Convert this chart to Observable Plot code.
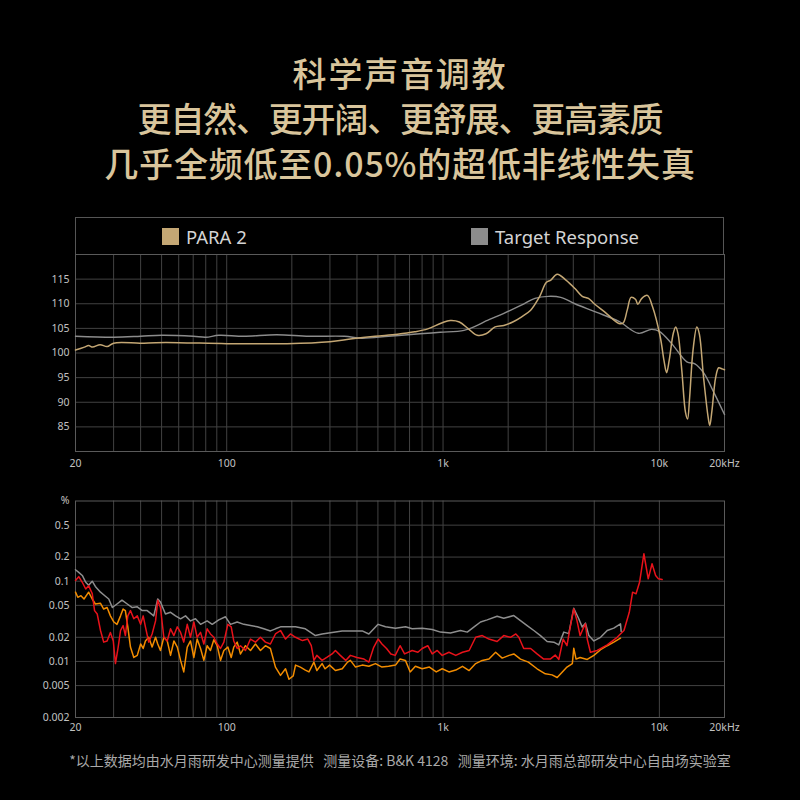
<!DOCTYPE html>
<html>
<head>
<meta charset="utf-8">
<script src="https://cdn.jsdelivr.net/npm/d3@7"></script>
<script src="https://cdn.jsdelivr.net/npm/@observablehq/plot@0.6"></script>
<style>
  html, body { margin: 0; padding: 0; background: #000; }
  #root { position: relative; width: 800px; height: 800px; background: #000; overflow: hidden; }
  .title { position: absolute; left: 0; top: 50px; width: 800px; text-align: center;
    font-family: "Noto Sans CJK SC", "Noto Sans", sans-serif; font-weight: 500; font-size: 34px;
    line-height: 45px; color: #d9c59c; }
  .title div { white-space: nowrap; }
  .legend { position: absolute; left: 75px; top: 217px; width: 649px; height: 38px; box-sizing: border-box;
    border: 1px solid #555; border-bottom: none; font-family: "Noto Sans", sans-serif; font-size: 18.5px; color: #d4d4d4; }
  .item { position: absolute; top: 0; height: 37px; display: flex; align-items: center; }
  .sw { width: 17px; height: 17px; margin-right: 7px; }
  .chart { position: absolute; left: 0; }
  .footer { position: absolute; left: 0; top: 750px; width: 800px; text-align: center;
    font-family: "Noto Sans CJK SC", "Noto Sans", sans-serif; font-size: 14px; color: #a9a9a9; white-space: nowrap; }
</style>
</head>
<body>
<div id="root">
  <div class="title">
    <div style="letter-spacing:1.8px">科学声音调教</div>
    <div style="letter-spacing:-1.2px">更自然、更开阔、更舒展、更高素质</div>
    <div style="letter-spacing:0.8px">几乎全频低至0.05%的超低非线性失真</div>
  </div>
  <div class="legend" id="legend"></div>
  <div class="chart" id="top" style="top:240px"></div>
  <div class="chart" id="bottom" style="top:490px"></div>
  <div class="footer">*以上数据均由水月雨研发中心测量提供&nbsp;&nbsp;&nbsp;测量设备: B&amp;K 4128&nbsp;&nbsp;&nbsp;测量环境: 水月雨总部研发中心自由场实验室</div>
</div>
<script>
// ---------- Frequency response (top chart) ----------
const seriesNames = ["PARA 2", "Target Response"];
const seriesColors = ["#c4a774", "#8c8c8c"];

const para2Freq = [20, 22, 23, 24, 26, 28, 30, 40, 47, 60, 100, 190, 300, 380, 485, 615, 740, 850, 985, 1080, 1190, 1310, 1440, 1580, 1740, 1910, 2100, 2300, 2540, 2790, 3000, 3150, 3370, 3700, 4070, 4400, 4700, 5000, 5600, 6500, 6800, 7100, 7400, 7750, 7950, 8300, 8800, 9300, 10100, 10500, 10800, 11100, 11600, 11900, 12200, 12700, 13200, 13500, 13800, 14300, 14900, 15300, 16000, 16800, 17100, 17500, 18200, 18800, 19400, 20000];
const para2Db = [100.6, 101.2, 101.5, 101.2, 101.7, 101.3, 102.0, 102.0, 102.1, 102.1, 101.9, 101.9, 102.3, 102.9, 103.4, 103.8, 104.3, 104.9, 106.1, 106.6, 106.3, 104.9, 103.6, 103.9, 105.3, 105.6, 106.3, 107.3, 108.7, 111.4, 114.3, 114.8, 116.0, 114.8, 113.1, 111.5, 111.1, 110.0, 108.3, 106.0, 106.1, 108.7, 111.3, 110.9, 109.9, 111.1, 111.7, 109.4, 103.2, 98.5, 96.0, 98.5, 104.0, 105.3, 103.9, 96.4, 88.0, 86.6, 91.0, 100.5, 105.3, 103.9, 95.1, 87.0, 85.3, 88.3, 95.0, 97.0, 96.8, 96.6];

const targetFreq = [20, 30, 40, 50, 70, 80, 92, 120, 170, 240, 350, 420, 560, 780, 970, 1250, 1440, 1580, 1900, 2300, 2660, 3070, 3500, 4070, 5100, 6500, 8000, 9200, 10000, 11400, 13400, 14600, 16000, 17900, 20000];
const targetDb = [103.4, 103.2, 103.4, 103.6, 103.4, 103.2, 103.6, 103.4, 103.7, 103.4, 103.4, 103.0, 103.4, 103.9, 104.2, 104.6, 105.6, 106.5, 108.0, 109.7, 111.1, 111.5, 111.3, 110.0, 108.3, 106.4, 104.0, 104.8, 104.4, 101.9, 98.2, 97.8, 96.0, 91.9, 87.5];

const xTickValues = [20, 100, 1000, 10000, 20000];
const xTickLabels = ["20", "100", "1k", "10k", "20kHz"];
const frTicks = [85, 90, 95, 100, 105, 110, 115];
const topGridX = [30, 40, 50, 60, 70, 80, 90, 100, 200, 300, 400, 500, 600, 700, 800, 900, 1000, 2000, 3000, 4000, 5000, 10000];

// ---------- Distortion (bottom chart) ----------
const thdGrayFreq = [20, 20.7, 21.5, 22.3, 23.0, 23.9, 24.7, 26.1, 27.5, 28.5, 29.6, 31.1, 32.8, 34.7, 36.6, 38.6, 40.7, 42.9, 46.0, 48.0, 49.4, 52.1, 55.0, 58.0, 61.2, 64.5, 68.0, 71.7, 75.7, 81.2, 85.7, 91.9, 98.7, 104.1, 111.8, 120, 128.8, 138.4, 148.4, 159.3, 168, 177.3, 190, 208, 231, 257, 276, 307, 342, 380, 423, 454, 501, 542, 603, 671, 720, 801, 891, 973, 1082, 1204, 1294, 1387, 1490, 1600, 1778, 1908, 2124, 2280, 2448, 2628, 2820, 3028, 3251, 3428, 3616, 3812, 4020, 4240, 4400, 4554, 4720, 4980, 5347, 5740, 6156, 6610, 6660];
const thdGrayVal = [0.139, 0.129, 0.118, 0.097, 0.089, 0.1, 0.086, 0.073, 0.065, 0.060, 0.047, 0.052, 0.058, 0.052, 0.047, 0.048, 0.043, 0.043, 0.037, 0.060, 0.055, 0.039, 0.041, 0.037, 0.034, 0.037, 0.032, 0.034, 0.029, 0.032, 0.029, 0.033, 0.036, 0.029, 0.031, 0.029, 0.028, 0.027, 0.0255, 0.024, 0.0255, 0.027, 0.027, 0.027, 0.0255, 0.021, 0.022, 0.023, 0.024, 0.024, 0.024, 0.022, 0.029, 0.027, 0.026, 0.027, 0.0255, 0.026, 0.025, 0.0232, 0.0226, 0.0243, 0.0232, 0.0268, 0.031, 0.033, 0.0365, 0.0345, 0.0373, 0.0323, 0.028, 0.0243, 0.021, 0.0177, 0.0174, 0.0161, 0.0232, 0.0222, 0.046, 0.034, 0.0268, 0.030, 0.021, 0.018, 0.020, 0.0243, 0.026, 0.0294, 0.0237];

const thdRedFreq = [20, 20.7, 21.5, 22.3, 23.0, 23.9, 24.5, 25.2, 26.1, 27.0, 28.0, 29.0, 29.9, 30.6, 31.5, 32.3, 33.2, 34.0, 34.9, 35.9, 37.2, 38.6, 40.0, 41.1, 42.1, 43.6, 45.2, 46.9, 48.0, 49.4, 51.2, 53.1, 55.0, 57.0, 59.1, 61.2, 63.3, 65.7, 68.0, 70.5, 73.0, 75.7, 78.4, 81.2, 84.1, 87.2, 90.4, 93.6, 97.0, 101.2, 104.9, 107.8, 111.8, 115.8, 122.1, 128.8, 135.8, 143.2, 151, 159.2, 168, 177.3, 187, 197, 208, 224, 237, 246, 253, 261, 276, 290, 307, 318, 335, 355, 373, 400, 431, 454, 478, 501, 522, 548, 574, 601, 633, 664, 720, 765, 801, 850, 891, 940, 991, 1065, 1145, 1230, 1320, 1415, 1518, 1630, 1778, 1908, 2050, 2170, 2240, 2360, 2540, 2720, 2920, 3130, 3300, 3430, 3590, 3740, 3870, 4020, 4160, 4300, 4430, 4554, 4640, 4800, 5160, 5740, 6380, 6860, 7260, 7520, 7800, 8100, 8480, 8880, 9250, 9610, 9900, 10300];
const thdRedVal = [0.102, 0.114, 0.097, 0.080, 0.088, 0.070, 0.043, 0.039, 0.0243, 0.0174, 0.018, 0.023, 0.018, 0.0094, 0.0151, 0.0243, 0.028, 0.021, 0.037, 0.043, 0.034, 0.037, 0.029, 0.037, 0.027, 0.0174, 0.022, 0.032, 0.058, 0.047, 0.020, 0.018, 0.0255, 0.021, 0.027, 0.023, 0.0174, 0.029, 0.020, 0.031, 0.020, 0.023, 0.0165, 0.0255, 0.022, 0.020, 0.0165, 0.0145, 0.0174, 0.029, 0.027, 0.018, 0.0145, 0.0157, 0.0137, 0.019, 0.0174, 0.020, 0.0174, 0.0165, 0.022, 0.0243, 0.019, 0.022, 0.020, 0.0182, 0.019, 0.0157, 0.0103, 0.0119, 0.0103, 0.0112, 0.0124, 0.0137, 0.0119, 0.0103, 0.0119, 0.0112, 0.0107, 0.0098, 0.015, 0.019, 0.0165, 0.0145, 0.0124, 0.0119, 0.0157, 0.0124, 0.0137, 0.013, 0.0145, 0.0157, 0.0124, 0.0137, 0.0119, 0.013, 0.0119, 0.013, 0.0137, 0.020, 0.021, 0.019, 0.0177, 0.021, 0.020, 0.022, 0.020, 0.0145, 0.0145, 0.0124, 0.0107, 0.0107, 0.012, 0.0106, 0.019, 0.0157, 0.0268, 0.0452, 0.0323, 0.021, 0.0254, 0.0294, 0.019, 0.013, 0.0137, 0.0161, 0.020, 0.0243, 0.041, 0.073, 0.0696, 0.097, 0.22, 0.107, 0.165, 0.118, 0.107, 0.105];

const thdOrangeFreq = [20, 20.5, 21.2, 21.9, 23.0, 23.9, 24.7, 26.1, 27.0, 28.0, 29.0, 30.1, 31.1, 32.3, 33.2, 34.0, 34.9, 35.9, 37.2, 38.6, 40.0, 41.1, 42.1, 43.6, 45.2, 46.9, 48.0, 49.4, 51.2, 53.1, 55.0, 57.0, 59.1, 61.2, 63.3, 65.7, 68.0, 70.5, 73.0, 75.7, 78.4, 81.2, 84.1, 87.2, 90.4, 93.6, 97.0, 101.2, 104.9, 107.8, 111.8, 115.8, 122.1, 128.8, 135.8, 143.2, 151, 159.2, 168, 177.3, 187, 194, 203, 208, 219, 231, 240, 253, 261, 276, 285, 299, 318, 342, 362, 373, 394, 423, 454, 487, 522, 560, 603, 633, 670, 705, 745, 801, 865, 930, 991, 1065, 1145, 1230, 1320, 1415, 1518, 1630, 1750, 1877, 2020, 2124, 2280, 2480, 2720, 2970, 3190, 3370, 3560, 3740, 3960, 4020, 4120, 4300, 4640, 4980, 5347, 5740, 6156, 6610];
const thdOrangeVal = [0.073, 0.063, 0.066, 0.060, 0.073, 0.060, 0.052, 0.053, 0.045, 0.047, 0.037, 0.031, 0.029, 0.037, 0.045, 0.043, 0.027, 0.0151, 0.0112, 0.0119, 0.0165, 0.0145, 0.018, 0.020, 0.0151, 0.020, 0.0165, 0.0137, 0.020, 0.018, 0.0119, 0.018, 0.0151, 0.0103, 0.0074, 0.0151, 0.018, 0.0112, 0.019, 0.0145, 0.0103, 0.0157, 0.0137, 0.0186, 0.0157, 0.0103, 0.0137, 0.0151, 0.0112, 0.0151, 0.0174, 0.0124, 0.0157, 0.0137, 0.0165, 0.0137, 0.0157, 0.0145, 0.0085, 0.0067, 0.0081, 0.006, 0.0066, 0.009, 0.0085, 0.0078, 0.0074, 0.0098, 0.0077, 0.0094, 0.0081, 0.009, 0.0077, 0.0081, 0.0098, 0.0103, 0.0085, 0.009, 0.0087, 0.0094, 0.0085, 0.0087, 0.009, 0.0107, 0.0103, 0.0074, 0.0087, 0.0081, 0.0085, 0.0074, 0.0081, 0.0074, 0.0078, 0.0087, 0.0077, 0.0094, 0.0103, 0.0107, 0.013, 0.011, 0.0119, 0.0124, 0.0107, 0.0098, 0.0081, 0.0070, 0.0068, 0.0063, 0.0074, 0.0085, 0.0094, 0.0146, 0.0107, 0.0112, 0.0106, 0.0119, 0.0140, 0.0157, 0.0174, 0.0195];

const thdColors = ["#8e8e8e", "#f28c00", "#e8121a"];
const thdTicks = [0.002, 0.005, 0.01, 0.02, 0.05, 0.1, 0.2, 0.5, 1];
const thdTickLabels = ["0.002", "0.005", "0.01", "0.02", "0.05", "0.1", "0.2", "0.5", "%"];
const thdGridY = [0.005, 0.01, 0.02, 0.05, 0.1, 0.2, 0.5];
const bottomGridX = [30, 40, 50, 60, 70, 80, 90, 100, 200, 300, 400, 500, 600, 700, 800, 900, 1000, 5000, 10000];

// ---------- build ----------
const zip = (fs, vs) => fs.map((f, i) => ({f, v: vs[i]}));
const gridStroke = "#424242";
const frameStroke = "#5a5a5a";
const labelColor = "#c2c2c2";
const axisStyle = {background: "transparent", color: labelColor, fontFamily: "'Noto Sans', sans-serif", fontSize: "10.5px", overflow: "visible"};

// legend
const legend = document.getElementById("legend");
[[86, 0], [395, 1]].forEach(([left, i]) => {
  const it = document.createElement("div");
  it.className = "item";
  it.style.left = left + "px";
  it.innerHTML = `<div class="sw" style="background:${seriesColors[i]}"></div><span>${seriesNames[i]}</span>`;
  legend.appendChild(it);
});

const topChart = Plot.plot({
  width: 800, height: 241,
  marginLeft: 75, marginRight: 76, marginTop: 14, marginBottom: 30,
  style: axisStyle,
  x: {type: "log", domain: [20, 20000], axis: null},
  y: {domain: [80, 120], axis: null},
  marks: [
    Plot.ruleX(topGridX, {stroke: gridStroke, strokeWidth: 1}),
    Plot.ruleY(frTicks, {stroke: gridStroke, strokeWidth: 1}),
    Plot.frame({stroke: frameStroke}),
    Plot.text(xTickValues, {x: d => d, y: () => 80, text: (d, i) => xTickLabels[i], dy: 12, fill: labelColor}),
    Plot.text(frTicks, {x: () => 20, y: d => d, text: d => String(d), dx: -6, textAnchor: "end", fill: labelColor}),
    Plot.line(zip(targetFreq, targetDb), {x: "f", y: "v", stroke: seriesColors[1], strokeWidth: 1.4, curve: "catmull-rom"}),
    Plot.line(zip(para2Freq, para2Db), {x: "f", y: "v", stroke: seriesColors[0], strokeWidth: 1.5, curve: "catmull-rom"})
  ]
});
document.getElementById("top").appendChild(topChart);

const bottomChart = Plot.plot({
  width: 800, height: 252,
  marginLeft: 75, marginRight: 76, marginTop: 10.5, marginBottom: 25,
  style: axisStyle,
  x: {type: "log", domain: [20, 20000], axis: null},
  y: {type: "log", domain: [0.002, 1], axis: null},
  marks: [
    Plot.ruleX(bottomGridX, {stroke: gridStroke, strokeWidth: 1}),
    Plot.ruleY(thdGridY, {stroke: gridStroke, strokeWidth: 1}),
    Plot.frame({stroke: frameStroke}),
    Plot.text(xTickValues, {x: d => d, y: () => 0.002, text: (d, i) => xTickLabels[i], dy: 10, fill: labelColor}),
    Plot.text(thdTicks, {x: () => 20, y: d => d, text: (d, i) => thdTickLabels[i], dx: -6, textAnchor: "end", fill: labelColor}),
    Plot.line(zip(thdGrayFreq, thdGrayVal), {x: "f", y: "v", stroke: thdColors[0], strokeWidth: 1.5, strokeLinejoin: "round"}),
    Plot.line(zip(thdOrangeFreq, thdOrangeVal), {x: "f", y: "v", stroke: thdColors[1], strokeWidth: 1.5, strokeLinejoin: "round"}),
    Plot.line(zip(thdRedFreq, thdRedVal), {x: "f", y: "v", stroke: thdColors[2], strokeWidth: 1.5, strokeLinejoin: "round"})
  ]
});
document.getElementById("bottom").appendChild(bottomChart);
</script>
</body>
</html>
